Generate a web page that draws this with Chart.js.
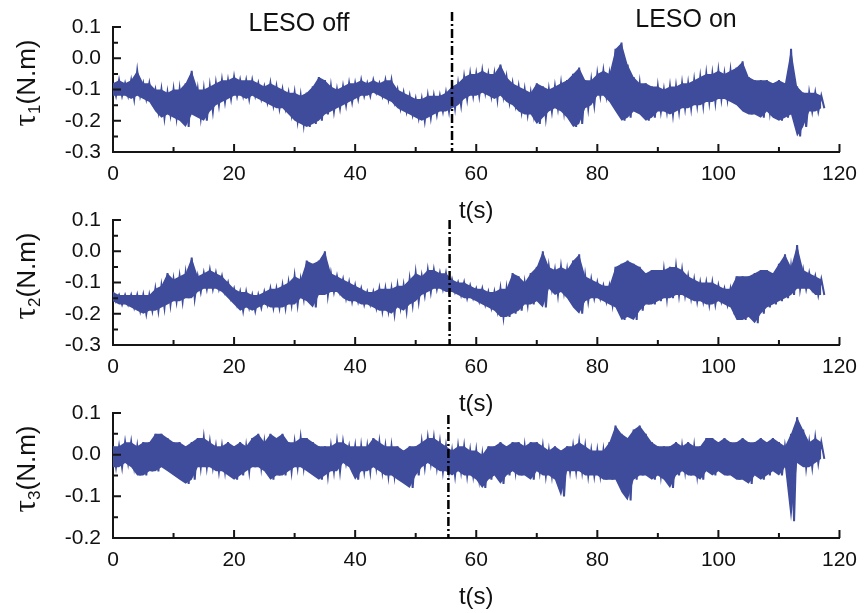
<!DOCTYPE html>
<html lang="en">
<head>
    <meta charset="UTF-8">
    <title>Joint torques, LESO off / on</title>
    <script src="https://cdn.jsdelivr.net/npm/chart.js"></script>
    <style>
        body {
            margin: 0;
            background-color: #fff;
        }

        #wrap {
            position: relative;
            width: 867px;
            height: 613px;
        }

        canvas {
            position: absolute;
            left: 0;
        }
    </style>
</head>
<body>

    <div id="wrap">
        <canvas id="tau1Chart" width="867" height="225" style="top:0px"></canvas>
        <canvas id="tau2Chart" width="867" height="225" style="top:193px"></canvas>
        <canvas id="tau3Chart" width="867" height="225" style="top:386px"></canvas>
    </div>

    <script>
        // envelope of each signal, read once per second (t = 0..117 s): upper and lower edge of the band
        var tau1Hi = [-0.08,-0.07,-0.08,-0.07,-0.04,-0.08,-0.08,-0.10,-0.10,-0.11,
            -0.10,-0.10,-0.08,-0.04,-0.10,-0.10,-0.09,-0.08,-0.07,-0.07,
            -0.06,-0.07,-0.07,-0.07,-0.08,-0.09,-0.08,-0.09,-0.10,-0.11,
            -0.11,-0.12,-0.11,-0.09,-0.06,-0.07,-0.09,-0.10,-0.09,-0.08,
            -0.08,-0.07,-0.08,-0.07,-0.08,-0.07,-0.07,-0.10,-0.11,-0.12,
            -0.13,-0.13,-0.12,-0.12,-0.12,-0.11,-0.09,-0.08,-0.06,-0.05,
            -0.05,-0.04,-0.05,-0.05,-0.02,-0.06,-0.08,-0.09,-0.10,-0.11,
            -0.08,-0.09,-0.10,-0.09,-0.08,-0.07,-0.05,-0.03,-0.07,-0.07,
            -0.05,-0.04,-0.05,0.03,0.05,-0.02,-0.06,-0.08,-0.08,-0.09,
            -0.09,-0.10,-0.09,-0.09,-0.08,-0.08,-0.07,-0.06,-0.05,-0.05,
            -0.04,-0.05,-0.04,-0.03,-0.01,-0.06,-0.07,-0.07,-0.07,-0.08,
            -0.07,-0.08,0.03,-0.09,-0.11,-0.11,-0.11,-0.12];
        var tau1Lo = [-0.12,-0.12,-0.12,-0.13,-0.12,-0.13,-0.14,-0.17,-0.19,-0.18,
            -0.19,-0.20,-0.22,-0.18,-0.19,-0.20,-0.17,-0.15,-0.14,-0.13,
            -0.12,-0.12,-0.13,-0.12,-0.13,-0.14,-0.15,-0.16,-0.16,-0.18,
            -0.20,-0.21,-0.22,-0.21,-0.20,-0.18,-0.17,-0.16,-0.15,-0.14,
            -0.13,-0.12,-0.12,-0.11,-0.12,-0.13,-0.14,-0.16,-0.17,-0.18,
            -0.19,-0.20,-0.19,-0.18,-0.17,-0.17,-0.16,-0.15,-0.13,-0.12,
            -0.12,-0.11,-0.12,-0.13,-0.12,-0.14,-0.15,-0.17,-0.18,-0.18,
            -0.21,-0.19,-0.17,-0.16,-0.17,-0.19,-0.22,-0.21,-0.16,-0.15,
            -0.12,-0.12,-0.14,-0.17,-0.20,-0.19,-0.17,-0.18,-0.20,-0.19,
            -0.17,-0.17,-0.18,-0.17,-0.16,-0.16,-0.15,-0.15,-0.14,-0.14,
            -0.13,-0.13,-0.14,-0.15,-0.17,-0.18,-0.18,-0.19,-0.17,-0.19,
            -0.20,-0.19,-0.18,-0.25,-0.22,-0.17,-0.17,-0.16];

        var tau2Hi = [-0.13,-0.14,-0.14,-0.14,-0.14,-0.14,-0.14,-0.12,-0.11,-0.07,
            -0.09,-0.08,-0.07,-0.02,-0.08,-0.07,-0.06,-0.07,-0.08,-0.10,
            -0.12,-0.13,-0.13,-0.14,-0.14,-0.13,-0.12,-0.12,-0.11,-0.10,
            -0.08,-0.09,-0.03,-0.04,-0.03,0.00,-0.07,-0.08,-0.09,-0.10,
            -0.11,-0.12,-0.13,-0.13,-0.12,-0.12,-0.12,-0.11,-0.11,-0.09,
            -0.07,-0.08,-0.06,-0.06,-0.07,-0.07,-0.09,-0.10,-0.10,-0.11,
            -0.12,-0.12,-0.13,-0.13,-0.12,-0.12,-0.07,-0.08,-0.10,-0.07,
            -0.05,0.00,-0.05,-0.06,-0.05,-0.06,-0.03,-0.01,-0.08,-0.09,
            -0.10,-0.11,-0.11,-0.05,-0.04,-0.03,-0.04,-0.05,-0.07,-0.06,
            -0.06,-0.06,-0.05,-0.05,-0.06,-0.08,-0.09,-0.10,-0.10,-0.10,
            -0.11,-0.12,-0.12,-0.08,-0.08,-0.08,-0.07,-0.06,-0.06,-0.07,
            -0.04,-0.01,-0.05,0.02,-0.06,-0.07,-0.08,-0.09];
        var tau2Lo = [-0.16,-0.17,-0.17,-0.18,-0.19,-0.20,-0.19,-0.19,-0.18,-0.17,
            -0.16,-0.16,-0.15,-0.15,-0.13,-0.12,-0.12,-0.12,-0.13,-0.15,
            -0.17,-0.19,-0.18,-0.19,-0.18,-0.17,-0.18,-0.18,-0.18,-0.17,
            -0.17,-0.15,-0.16,-0.18,-0.14,-0.14,-0.13,-0.13,-0.15,-0.16,
            -0.16,-0.17,-0.17,-0.18,-0.19,-0.19,-0.20,-0.18,-0.19,-0.17,
            -0.16,-0.14,-0.13,-0.12,-0.12,-0.13,-0.13,-0.14,-0.15,-0.15,
            -0.16,-0.17,-0.18,-0.19,-0.21,-0.21,-0.20,-0.19,-0.17,-0.17,
            -0.16,-0.18,-0.12,-0.14,-0.13,-0.15,-0.18,-0.20,-0.16,-0.15,
            -0.15,-0.16,-0.17,-0.18,-0.22,-0.21,-0.22,-0.19,-0.17,-0.17,
            -0.16,-0.15,-0.15,-0.14,-0.14,-0.15,-0.16,-0.16,-0.17,-0.17,
            -0.16,-0.17,-0.18,-0.22,-0.22,-0.21,-0.23,-0.20,-0.18,-0.17,
            -0.16,-0.15,-0.14,-0.12,-0.12,-0.12,-0.14,-0.14];

        var tau3Hi = [0.02,0.02,0.03,0.03,0.02,0.03,0.03,0.05,0.05,0.04,
            0.03,0.03,0.02,0.03,0.04,0.04,0.03,0.02,0.02,0.03,
            0.02,0.03,0.02,0.04,0.05,0.03,0.05,0.04,0.05,0.03,
            0.03,0.04,0.04,0.03,0.02,0.02,0.02,0.03,0.03,0.02,
            0.02,0.02,0.02,0.04,0.03,0.02,0.02,0.02,0.01,0.02,
            0.02,0.03,0.04,0.04,0.03,0.02,0.01,0.02,0.02,0.01,
            0.01,0.00,0.02,0.02,0.03,0.02,0.03,0.03,0.02,0.03,
            0.03,0.02,0.01,0.02,0.01,0.02,0.02,0.03,0.02,0.01,
            0.01,0.01,0.03,0.07,0.05,0.04,0.06,0.07,0.05,0.03,
            0.02,0.02,0.02,0.03,0.02,0.03,0.02,0.02,0.04,0.04,
            0.03,0.04,0.03,0.03,0.04,0.03,0.03,0.04,0.03,0.04,
            0.03,0.02,0.05,0.09,0.06,0.03,0.04,0.03];
        var tau3Lo = [-0.03,-0.03,-0.02,-0.03,-0.05,-0.05,-0.04,-0.04,-0.03,-0.04,
            -0.05,-0.06,-0.07,-0.06,-0.03,-0.03,-0.03,-0.04,-0.04,-0.05,
            -0.06,-0.05,-0.04,-0.03,-0.03,-0.04,-0.06,-0.05,-0.05,-0.04,
            -0.03,-0.03,-0.04,-0.05,-0.06,-0.05,-0.04,-0.04,-0.02,-0.03,
            -0.06,-0.04,-0.04,-0.03,-0.04,-0.05,-0.05,-0.06,-0.07,-0.08,
            -0.05,-0.03,-0.02,-0.03,-0.04,-0.04,-0.05,-0.04,-0.05,-0.05,
            -0.06,-0.08,-0.06,-0.05,-0.07,-0.05,-0.04,-0.05,-0.05,-0.06,
            -0.04,-0.05,-0.05,-0.06,-0.10,-0.04,-0.04,-0.04,-0.05,-0.05,
            -0.05,-0.06,-0.06,-0.06,-0.09,-0.11,-0.06,-0.05,-0.05,-0.06,
            -0.05,-0.06,-0.08,-0.05,-0.04,-0.05,-0.05,-0.06,-0.04,-0.05,
            -0.04,-0.05,-0.05,-0.06,-0.06,-0.07,-0.05,-0.06,-0.05,-0.04,
            -0.05,-0.03,-0.16,-0.02,-0.03,-0.03,-0.02,-0.01];

        // axis ranges and the LESO switch-on marker (s) of each panel
        var yMins = [-0.3, -0.3, -0.2];
        var yMaxs = [0.1, 0.1, 0.1];
        var switchTimes = [56, 55.6, 55.4];
        var switchTops = [0.148, 0.1, 0.095];
        var subscripts = ['1', '2', '3'];

        var lineColor = '#3f4c9c';
        var axisColor = '#151515';
        var sansFont = "'Liberation Sans', Arial, sans-serif";

        Chart.defaults.font.family = sansFont;
        Chart.defaults.font.size = 20;
        Chart.defaults.color = '#111';

        // hi value at the full second, lo value half a second later -> noisy trace
        function bandPoints(hi, lo) {
            var pts = [];
            for (var i = 0; i < hi.length; i++) {
                pts.push({ x: i, y: hi[i] });
                pts.push({ x: i + 0.5, y: lo[i] });
            }
            return pts;
        }

        function edgePoints(vals) {
            return vals.map(function (v, i) { return { x: i, y: v }; });
        }

        // ticks pointing into the plot, major + minor halfway
        var inwardTicks = {
            id: 'inwardTicks',
            afterDraw: function (chart) {
                var ctx = chart.ctx, a = chart.chartArea;
                var xs = chart.scales.x, ys = chart.scales.y;
                ctx.save();
                ctx.strokeStyle = axisColor;
                ctx.lineWidth = 2;
                ctx.beginPath();
                xs.ticks.forEach(function (t, i) {
                    var px = xs.getPixelForValue(t.value);
                    ctx.moveTo(px, a.bottom);
                    ctx.lineTo(px, a.bottom - 8);
                    if (i > 0) {
                        var mx = xs.getPixelForValue((t.value + xs.ticks[i - 1].value) / 2);
                        ctx.moveTo(mx, a.bottom);
                        ctx.lineTo(mx, a.bottom - 5);
                    }
                });
                ys.ticks.forEach(function (t, i) {
                    var py = ys.getPixelForValue(t.value);
                    ctx.moveTo(a.left, py);
                    ctx.lineTo(a.left + 8, py);
                    if (i > 0) {
                        var my = ys.getPixelForValue((t.value + ys.ticks[i - 1].value) / 2);
                        ctx.moveTo(a.left, my);
                        ctx.lineTo(a.left + 5, my);
                    }
                });
                ctx.stroke();
                ctx.restore();
            }
        };

        // dash-dot line where LESO is switched on
        var switchLine = {
            id: 'switchLine',
            afterDatasetsDraw: function (chart, args, opts) {
                var ctx = chart.ctx;
                var px = chart.scales.x.getPixelForValue(opts.time);
                ctx.save();
                ctx.strokeStyle = '#000';
                ctx.lineWidth = 2.5;
                ctx.setLineDash([9, 3, 2, 3]);
                ctx.beginPath();
                ctx.moveTo(px, chart.scales.y.getPixelForValue(opts.top));
                ctx.lineTo(px, chart.chartArea.bottom);
                ctx.stroke();
                ctx.restore();
            }
        };

        // y title with subscript, x title, LESO labels
        var labels = {
            id: 'labels',
            afterDraw: function (chart, args, opts) {
                var ctx = chart.ctx, a = chart.chartArea;
                ctx.save();
                ctx.fillStyle = '#111';

                // x title
                ctx.font = '24px ' + sansFont;
                ctx.textAlign = 'center';
                ctx.textBaseline = 'middle';
                ctx.fillText('t(s)', (a.left + a.right) / 2, 211);

                // y title, rotated
                var tauFont = '31px "Liberation Serif", serif';
                var subFont = '17px ' + sansFont;
                var restFont = '26px ' + sansFont;
                ctx.font = tauFont;
                var w1 = ctx.measureText('τ').width;
                ctx.font = subFont;
                var w2 = ctx.measureText(opts.sub).width;
                ctx.font = restFont;
                var w3 = ctx.measureText('(N.m)').width;
                var total = w1 + w2 + w3;
                ctx.translate(35, 83);
                ctx.rotate(-Math.PI / 2);
                ctx.textAlign = 'left';
                ctx.textBaseline = 'alphabetic';
                var x0 = -total / 2;
                ctx.font = tauFont;
                ctx.fillText('τ', x0, 0);
                ctx.font = subFont;
                ctx.fillText(opts.sub, x0 + w1, 5);
                ctx.font = restFont;
                ctx.fillText('(N.m)', x0 + w1 + w2, 0);
                ctx.restore();

                if (opts.leso) {
                    ctx.save();
                    ctx.fillStyle = '#111';
                    ctx.font = '25px ' + sansFont;
                    ctx.textAlign = 'center';
                    ctx.textBaseline = 'middle';
                    ctx.fillText('LESO off', 299, 24);
                    ctx.fillText('LESO on', 686, 20);
                    ctx.restore();
                }
            }
        };

        function makeChart(id, hi, lo, k) {
            var ctx = document.getElementById(id).getContext('2d');
            return new Chart(ctx, {
                type: 'line',
                data: {
                    datasets: [{
                        // upper edge, filled down to the lower edge
                        data: edgePoints(hi),
                        borderWidth: 0,
                        borderColor: 'rgba(0,0,0,0)',
                        backgroundColor: lineColor,
                        pointRadius: 0,
                        fill: '+1'
                    }, {
                        data: edgePoints(lo),
                        borderWidth: 0,
                        borderColor: 'rgba(0,0,0,0)',
                        pointRadius: 0,
                        fill: false
                    }, {
                        // the noisy trace itself
                        data: bandPoints(hi, lo),
                        borderColor: lineColor,
                        borderWidth: 2,
                        pointRadius: 0,
                        tension: 0,
                        fill: false
                    }]
                },
                options: {
                    responsive: false,
                    animation: false,
                    events: [],
                    layout: { padding: { top: 27, right: 22, left: 0, bottom: 0 } },
                    plugins: {
                        legend: { display: false },
                        tooltip: { enabled: false },
                        switchLine: { time: switchTimes[k], top: switchTops[k] },
                        labels: { sub: subscripts[k], leso: k === 0 }
                    },
                    scales: {
                        x: {
                            type: 'linear',
                            min: 0,
                            max: 120,
                            afterFit: function (s) { s.height = 73; },
                            grid: { display: false, drawTicks: false },
                            border: { display: true, color: axisColor, width: 2 },
                            ticks: { stepSize: 20, padding: 10, maxRotation: 0, autoSkip: false, font: { size: 21 } }
                        },
                        y: {
                            min: yMins[k],
                            max: yMaxs[k],
                            afterFit: function (s) { s.width = 113; },
                            grid: { display: false, drawTicks: false },
                            border: { display: true, color: axisColor, width: 2 },
                            ticks: {
                                stepSize: 0.1,
                                padding: 12,
                                font: { size: 21 },
                                callback: function (v) {
                                    return Math.abs(v) < 1e-9 ? '0.0' : v.toFixed(1);
                                }
                            }
                        }
                    }
                },
                plugins: [inwardTicks, switchLine, labels]
            });
        }

        makeChart('tau1Chart', tau1Hi, tau1Lo, 0);
        makeChart('tau2Chart', tau2Hi, tau2Lo, 1);
        makeChart('tau3Chart', tau3Hi, tau3Lo, 2);
    </script>
</body>
</html>
